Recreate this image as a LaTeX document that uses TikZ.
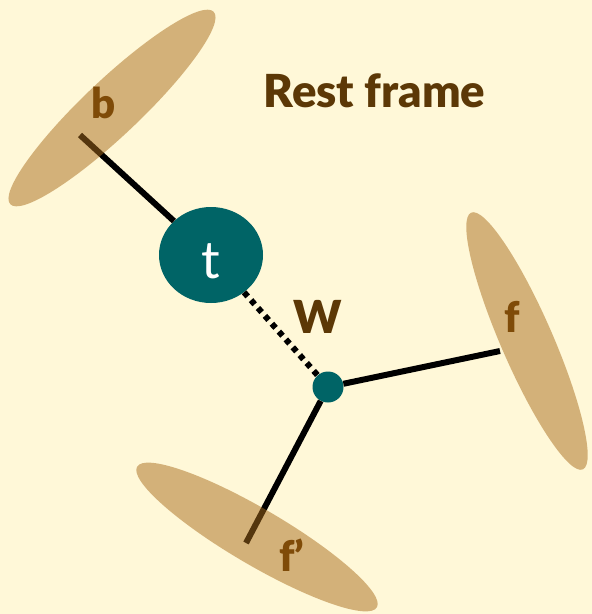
\documentclass[tikz,border=0pt]{standalone}
\usepackage{fontspec}
\setmainfont{Lato}[BoldFont={Lato Black}]
\usetikzlibrary{shapes.geometric}
\definecolor{bg}{RGB}{255,248,216}
\definecolor{jet}{RGB}{169,108,28}
\definecolor{teal}{RGB}{0,100,102}
\definecolor{lbl}{RGB}{127,75,8}
\definecolor{dark}{RGB}{92,56,6}
\tikzset{
  jetell/.style={ellipse, fill=jet, fill opacity=0.5, draw=none, inner sep=0pt},
  leg/.style={line width=6pt, black},
  wline/.style={line width=6pt, black, dash pattern=on 5.5pt off 5pt},
  jetlbl/.style={text=lbl, font=\bfseries\fontsize{42}{44}\selectfont, anchor=base, inner sep=0pt},
  title/.style={text=dark, font=\bfseries\fontsize{45.5}{47}\selectfont, anchor=base, inner sep=0pt},
}
\begin{document}
\begin{tikzpicture}[x=1pt,y=-1pt]
\fill[bg] (0,0) rectangle (592,614);
\useasboundingbox (0,0) rectangle (592,614);
% top quark and W vertex
\node[ellipse, fill=teal, minimum width=104pt, minimum height=96pt, inner sep=0pt] (t) at (211,255) {};
\node[circle, fill=teal, minimum size=31pt, inner sep=0pt] (v) at (328,387) {};
\coordinate (bend) at (80,135);
\coordinate (fend) at (500,351);
\coordinate (fpend) at (246,543);
% legs
\draw[leg] (bend) -- (t);
\draw[wline] (t) -- (v);
\draw[leg] (v) -- (fend);
\draw[leg] (v) -- (fpend);
% jets
\node[jetell, minimum width=280pt, minimum height=56pt, rotate=43.4] (bjet) at (112,108) {};
\node[jetell, minimum width=280pt, minimum height=52pt, rotate=-66.5] (fjet) at (527,341) {};
\node[jetell, minimum width=278pt, minimum height=56pt, rotate=-30.4] (fpjet) at (257,537) {};
% labels
\node[jetlbl] (blbl) at (103.5,118) {b};
\node[jetlbl] (flbl) at (512,332) {f};
\node[jetlbl] (fplbl) at (292,571) {f’};
\node[title] (wlbl) at (318,333) {W};
\node[title] (rest) at (374.5,107) {Rest frame};
\node[text=white, font=\fontsize{52}{54}\selectfont, anchor=base, inner sep=0pt] (tlbl) at (211,278) {t};
\end{tikzpicture}
\end{document}
